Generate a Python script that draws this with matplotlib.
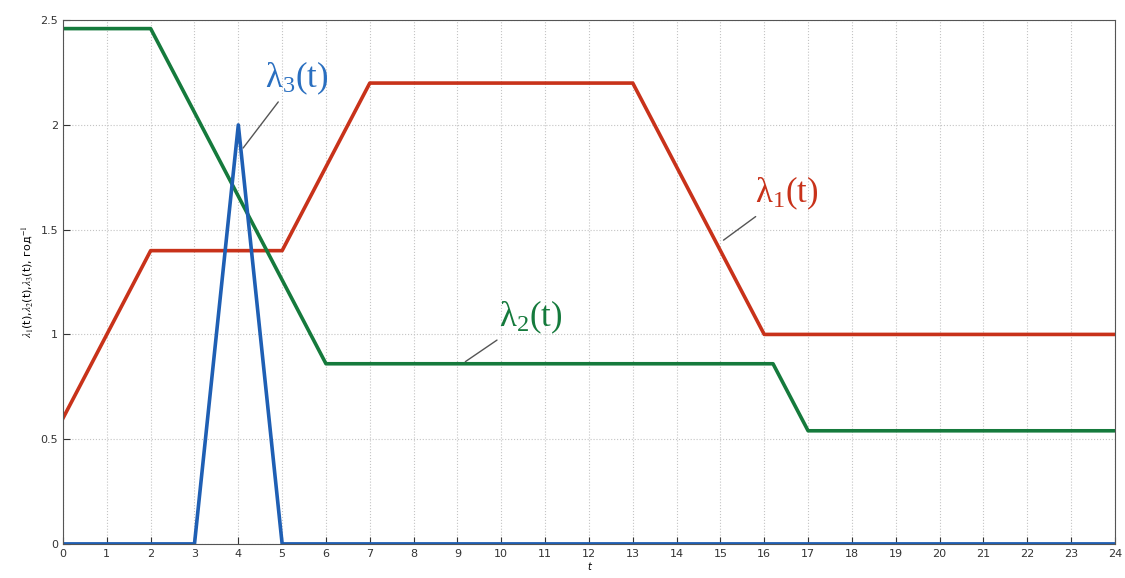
import matplotlib.pyplot as plt
import numpy as np

# piecewise-linear rates
t1 = [0, 2, 5, 7, 13, 16, 24]
lam1 = [0.6, 1.4, 1.4, 2.2, 2.2, 1.0, 1.0]
t2 = [0, 2, 6, 16.2, 17, 24]
lam2 = [2.46, 2.46, 0.86, 0.86, 0.54, 0.54]
t3 = [0, 3, 4, 5, 24]
lam3 = [0, 0, 2.0, 0, 0]

xticks = np.arange(0, 25, 1)
yticks = [0, 0.5, 1, 1.5, 2, 2.5]

plt.rcParams['mathtext.fontset'] = 'stix'
fig = plt.figure(figsize=(11.25, 5.78), dpi=100)
ax = fig.add_axes([0.056, 0.059, 0.935, 0.906])

red = '#c8321a'
green = '#157a3c'
blue = '#1f5fb4'
ax.plot(t1, lam1, color=red, lw=2.6)
ax.plot(t2, lam2, color=green, lw=2.6)
ax.plot(t3, lam3, color=blue, lw=2.6)

ax.set_xlim(0, 24)
ax.set_ylim(0, 2.5)
ax.set_xticks(xticks)
ax.set_yticks(yticks)
ax.set_yticklabels(['0', '0.5', '1', '1.5', '2', '2.5'])
ax.tick_params(direction='in', labelsize=8, length=5, colors='#333333')
ax.grid(True, ls=':', color='#c4c4c4', lw=0.8)
for s in ax.spines.values():
    s.set_color('#555555')
    s.set_linewidth(0.8)

ax.set_ylabel(r'$\lambda_1$(t),$\lambda_2$(t),$\lambda_3$(t), год$^{-1}$',
              fontsize=8, labelpad=4)
ax.set_xlabel('t', fontsize=7, style='italic', labelpad=2)

sf = dict(family='Liberation Serif', fontsize=25)
lc = dict(arrowstyle='-', color='#555555', lw=1, shrinkA=2, shrinkB=0)
ax.annotate(r'$\mathregular{\lambda_1}$(t)', xy=(15.07, 1.45), xytext=(15.8, 1.63),
            color=red, arrowprops=lc, **sf)
ax.annotate(r'$\mathregular{\lambda_2}$(t)', xy=(9.18, 0.87), xytext=(9.95, 1.04),
            color=green, arrowprops=lc, **sf)
ax.annotate(r'$\mathregular{\lambda_3}$(t)', xy=(4.11, 1.89), xytext=(4.6, 2.18),
            color='#2a6fc0', arrowprops=lc, **sf)

fig.savefig('out.png', dpi=100)
